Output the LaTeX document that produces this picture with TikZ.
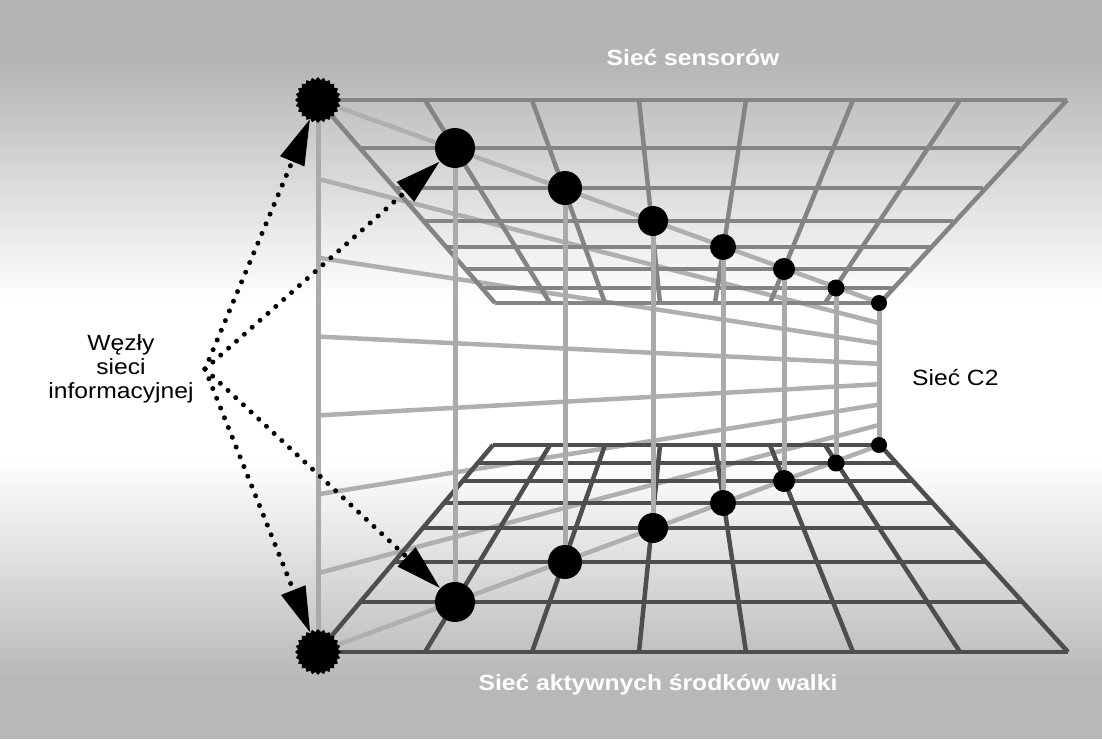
\documentclass[tikz,border=0pt]{standalone}
\usepackage{fontspec}
\setmainfont{Liberation Sans}[FakeStretch=1.12]
\usetikzlibrary{arrows.meta,shapes.geometric}
\definecolor{bgtop}{RGB}{180,180,180}
\definecolor{bgbot}{RGB}{184,184,184}
\definecolor{topgrid}{RGB}{132,132,132}
\definecolor{botgrid}{RGB}{78,78,78}
\definecolor{wallgray}{RGB}{175,175,175}
\definecolor{vertgray}{RGB}{170,170,170}
\begin{document}
\begin{tikzpicture}[x=1pt,y=-1pt,
  topg/.style={draw=topgrid,line width=4.5pt},
  botg/.style={draw=botgrid,line width=4.5pt},
  walll/.style={draw=wallgray,line width=4.5pt},
  vertl/.style={draw=vertgray,line width=5pt},
  ndot/.style={circle,fill=black,inner sep=0pt},
  spiky/.style={star,star points=24,star point ratio=1.14,fill=black,inner sep=0pt,minimum size=46pt},
  dotarrow/.style={line width=5pt,dash pattern=on 0pt off 10.5pt,line cap=round,-{Triangle[length=46pt,width=25pt]}},
  lbl/.style={font=\fontsize{22}{24}\selectfont,text=black,align=center,inner sep=0pt},
  bandlabel/.style={font=\bfseries\fontsize{22}{26}\selectfont,text=white,inner sep=0pt}
]
\useasboundingbox (0,0) rectangle (1102,739);
% background
\fill[bgtop] (0,0) rectangle (1102,60);
\fill[top color=bgtop,bottom color=white] (0,59) rectangle (1102,300);
\fill[white] (0,299) rectangle (1102,461);
\fill[top color=white,bottom color=bgbot] (0,460) rectangle (1102,680);
\fill[bgbot] (0,679) rectangle (1102,739);

% wall lines converging to the right
\foreach \k in {0,...,7}{
  \draw[walll] (318,{100+78.857*\k}) -- (880,{303+20.286*\k});
}

% top plane (sensor network)
\draw[topg] (318,100) -- (1067,100);
\draw[topg] (360,148) -- (1020,148);
\draw[topg] (395,188) -- (983,188);
\draw[topg] (424,221) -- (953,221);
\draw[topg] (446,247) -- (930,247);
\draw[topg] (465,269) -- (909,269);
\draw[topg] (482,288) -- (893,288);
\draw[topg] (495,303) -- (880,303);
\draw[topg] (318,100) -- (495,303);
\draw[topg] (1067,100) -- (880,303);
\draw[topg] (425,100) -- (550,303);
\draw[topg] (532,100) -- (605,303);
\draw[topg] (639,100) -- (660,303);
\draw[topg] (746,100) -- (715,303);
\draw[topg] (853,100) -- (770,303);
\draw[topg] (960,100) -- (825,303);

% bottom plane (weapons network)
\draw[botg] (493,445) -- (880,445);
\draw[botg] (478,463) -- (896,463);
\draw[botg] (463,481) -- (912,481);
\draw[botg] (444,503) -- (932,503);
\draw[botg] (423,528) -- (954,528);
\draw[botg] (394,562) -- (985,562);
\draw[botg] (360,602) -- (1021,602);
\draw[botg] (318,652) -- (1068,652);
\draw[botg] (318,652) -- (493,445);
\draw[botg] (1068,652) -- (880,445);
\draw[botg] (425,652) -- (550,445);
\draw[botg] (532,652) -- (605,445);
\draw[botg] (639,652) -- (660,445);
\draw[botg] (746,652) -- (715,445);
\draw[botg] (853,652) -- (770,445);
\draw[botg] (960,652) -- (825,445);

% C2 verticals
\foreach \x/\ya/\yb in {318/100/652,455/148/602,565/188/562,653/221/528,723/247/503,784/269/481,836/288/463,879/303/445}{
  \draw[vertl] (\x,\ya) -- (\x,\yb);
}

% nodes
\node[spiky] (s1) at (318,100) {};
\node[spiky] (s2) at (318,652) {};
\node[ndot,minimum size=40pt] (t1) at (455,148) {};
\node[ndot,minimum size=34pt] (t2) at (565,188) {};
\node[ndot,minimum size=30pt] (t3) at (653,221) {};
\node[ndot,minimum size=26pt] (t4) at (723,247) {};
\node[ndot,minimum size=22pt] (t5) at (784,269) {};
\node[ndot,minimum size=17pt] (t6) at (836,288) {};
\node[ndot,minimum size=16pt] (t7) at (879,303) {};
\node[ndot,minimum size=40pt] (b1) at (455,602) {};
\node[ndot,minimum size=34pt] (b2) at (565,562) {};
\node[ndot,minimum size=30pt] (b3) at (653,528) {};
\node[ndot,minimum size=26pt] (b4) at (723,503) {};
\node[ndot,minimum size=22pt] (b5) at (784,481) {};
\node[ndot,minimum size=17pt] (b6) at (836,463) {};
\node[ndot,minimum size=16pt] (b7) at (879,445) {};

% labels
\node[lbl] (wezly) at (121,369) {Węzły\\sieci\\informacyjnej};
\node[lbl,anchor=west] (c2) at (912,378) {Sieć C2};
\node[bandlabel] (sens) at (693,58) {Sieć sensorów};
\node[bandlabel] (aktyw) at (658,685) {Sieć aktywnych środków walki};

% dotted arrows
\coordinate (src) at (205,369);
\draw[dotarrow] (src) -- (s1);
\draw[dotarrow] (src) -- (t1);
\draw[dotarrow] (src) -- (b1);
\draw[dotarrow] (src) -- (s2);
\end{tikzpicture}
\end{document}
